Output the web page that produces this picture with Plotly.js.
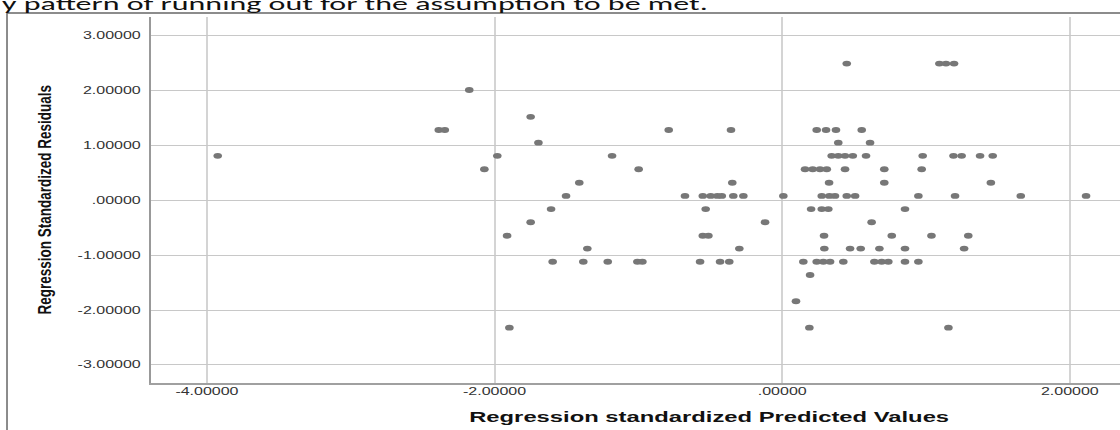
<!DOCTYPE html>
<html>
<head>
<meta charset="utf-8">
<script src="https://cdn.plot.ly/plotly-3.0.1.min.js"></script>
<style>
  html, body { margin: 0; padding: 0; background: #ffffff; }
  #chart { width: 1120px; height: 430px; }
</style>
</head>
<body>
<div id="chart"></div>
<script>
// Regression standardized predicted values (x) and standardized residuals (y)
var predicted = [
  0.448, 1.092, 1.138, 1.194,
  -2.177,
  -1.750,
  -2.389, -2.347, -0.790, -0.357, 0.239, 0.304, 0.373, 0.552,
  -1.696, 0.389, 0.610,
  -3.926, -1.982, -1.184, 0.343, 0.389, 0.436, 0.490, 0.582, 0.976, 1.190, 1.247, 1.375, 1.463,
  -2.072, -0.999, 0.158, 0.211, 0.262, 0.309, 0.436, 0.709, 0.969,
  -1.412, -0.348, 0.325, 0.709, 1.450,
  -1.504, -0.677, -0.553, -0.498, -0.452, -0.421, -0.341, -0.271, 0.007, 0.274, 0.327, 0.366, 0.448, 0.506, 0.946, 1.201, 1.658, 2.112,
  -1.608, -0.533, 0.200, 0.274, 0.320, 0.853,
  -1.750, -0.120, 0.621,
  -1.914, -0.553, -0.514, 0.290, 0.761, 1.037, 1.293,
  -1.356, -0.299, 0.292, 0.471, 0.545, 0.675, 0.853, 1.264,
  -1.597, -1.384, -1.214, -1.008, -0.973, -0.572, -0.433, -0.369, 0.146, 0.239, 0.285, 0.332, 0.424, 0.640, 0.691, 0.737, 0.853, 0.946,
  0.193,
  0.095,
  -1.898, 0.188, 1.155
];
var residuals = [
  2.49, 2.49, 2.49, 2.49,
  2.01,
  1.52,
  1.28, 1.28, 1.28, 1.28, 1.28, 1.28, 1.28, 1.28,
  1.05, 1.05, 1.05,
  0.81, 0.81, 0.81, 0.81, 0.81, 0.81, 0.81, 0.81, 0.81, 0.81, 0.81, 0.81, 0.81,
  0.565, 0.565, 0.565, 0.565, 0.565, 0.565, 0.565, 0.565, 0.565,
  0.32, 0.32, 0.32, 0.32, 0.32,
  0.08, 0.08, 0.08, 0.08, 0.08, 0.08, 0.08, 0.08, 0.08, 0.08, 0.08, 0.08, 0.08, 0.08, 0.08, 0.08, 0.08, 0.08,
  -0.16, -0.16, -0.16, -0.16, -0.16, -0.16,
  -0.40, -0.40, -0.40,
  -0.645, -0.645, -0.645, -0.645, -0.645, -0.645, -0.645,
  -0.88, -0.88, -0.88, -0.88, -0.88, -0.88, -0.88, -0.88,
  -1.12, -1.12, -1.12, -1.12, -1.12, -1.12, -1.12, -1.12, -1.12, -1.12, -1.12, -1.12, -1.12, -1.12, -1.12, -1.12, -1.12, -1.12,
  -1.36,
  -1.84,
  -2.32, -2.32, -2.32
];

var xTickVals = [-4, -2, 0, 2];
var xTickText = ['-4.00000', '-2.00000', '.00000', '2.00000'];
var yTickVals = [3, 2, 1, 0, -1, -2, -3];
var yTickText = ['3.00000', '2.00000', '1.00000', '.00000', '-1.00000', '-2.00000', '-3.00000'];

var topText = 'y pattern of running out for the assumption to be met.';
var xTitle = 'Regression standardized Predicted Values';
var yTitle = 'Regression Standardized Residuals';

var trace = {
  type: 'scatter',
  mode: 'markers',
  x: predicted,
  y: residuals,
  marker: { color: '#777777', size: 6.4, line: { width: 0 } },
  hoverinfo: 'skip',
  cliponaxis: false
};

var tickFont = { family: 'Liberation Sans, Arial, sans-serif', size: 10, color: '#333333' };

var layout = {
  width: 1120,
  height: 430,
  margin: { l: 151, r: 0, t: 17, b: 47 },
  paper_bgcolor: '#ffffff',
  plot_bgcolor: '#ffffff',
  showlegend: false,
  xaxis: {
    range: [-4.390, 2.348],
    tickvals: xTickVals,
    ticktext: xTickText,
    tickfont: tickFont,
    showgrid: true,
    gridcolor: '#d4d4d4',
    gridwidth: 2,
    zeroline: false,
    showline: true,
    linecolor: '#a0a0a0',
    linewidth: 2,
    ticks: '',
    ticklabelstandoff: -2
  },
  yaxis: {
    range: [-3.328, 3.339],
    tickvals: yTickVals,
    ticktext: yTickText,
    tickfont: tickFont,
    showgrid: true,
    gridcolor: '#c8c8c8',
    gridwidth: 1,
    zeroline: false,
    showline: true,
    linecolor: '#999999',
    linewidth: 2,
    ticks: '',
    ticklabelstandoff: 6
  },
  shapes: [
    { type: 'line', xref: 'paper', yref: 'paper', x0: -0.1486, x1: 1.01, y0: 1.0109, y1: 1.0109,
      line: { color: '#666666', width: 1.5 } },
    { type: 'line', xref: 'paper', yref: 'paper', x0: -0.1486, x1: -0.1486, y0: 1.0109, y1: -0.14,
      line: { color: '#666666', width: 1.5 } }
  ],
  annotations: [
    { text: topText, xref: 'paper', yref: 'paper', x: -0.1538, y: 0.9995, xanchor: 'left', yanchor: 'bottom',
      showarrow: false, font: { family: 'Carlito, Open Sans, sans-serif', size: 18, color: '#111111' } },
    { text: '<b>' + xTitle + '</b>', xref: 'paper', yref: 'paper', x: 0.5759, y: -0.094, xanchor: 'center', yanchor: 'middle',
      showarrow: false, font: { family: 'Liberation Sans, Arial, sans-serif', size: 14, color: '#111111' } },
    { text: '<b>' + yTitle + '</b>', xref: 'paper', yref: 'paper', x: -0.1099, y: 0.5, xanchor: 'center', yanchor: 'middle',
      textangle: -90, showarrow: false,
      font: { family: 'Liberation Sans, Arial, sans-serif', size: 13.5, color: '#111111' } }
  ]
};

// The reference screenshot is stretched horizontally; widen the drawn texts the same way.
function stretchEl(el, kx, mode, dx) {
  var svg = el.ownerSVGElement;
  var r = el.getBoundingClientRect();
  var ax = mode === 'right' ? r.right : (mode === 'left' ? r.left : (r.left + r.right) / 2);
  var ay = (r.top + r.bottom) / 2;
  var P = el.parentNode.getScreenCTM();
  var base = el.transform.baseVal;
  var Tm = base.numberOfItems ? base.consolidate().matrix : svg.createSVGMatrix();
  var S = svg.createSVGMatrix().translate(dx || 0, 0).translate(ax, ay).scaleNonUniform(kx, 1).translate(-ax, -ay);
  var M = P.inverse().multiply(S).multiply(P).multiply(Tm);
  base.initialize(svg.createSVGTransformFromMatrix(M));
}

Plotly.newPlot('chart', [trace], layout, { displayModeBar: false, staticPlot: true }).then(function (gd) {
  // SPSS draws its markers as slightly flattened ellipses
  gd.querySelectorAll('.scatterlayer .point').forEach(function (p) {
    var t = p.getAttribute('transform') || '';
    p.setAttribute('transform', t + ' scale(1.35,0.92)');
  });
  gd.querySelectorAll('.ytick text').forEach(function (t) { stretchEl(t, 1.6, 'right'); });
  gd.querySelectorAll('.xtick text').forEach(function (t) { stretchEl(t, 1.6, 'center'); });
  var ann = gd.querySelectorAll('.annotation-text');
  if (ann[0]) {
    var r0 = ann[0].getBoundingClientRect();
    stretchEl(ann[0], 706 / r0.width, 'left', 2 - r0.left);
  }
  if (ann[1]) { stretchEl(ann[1], 1.7, 'center'); }
  if (ann[2]) { stretchEl(ann[2], 1.36, 'center'); }
});
</script>
</body>
</html>
